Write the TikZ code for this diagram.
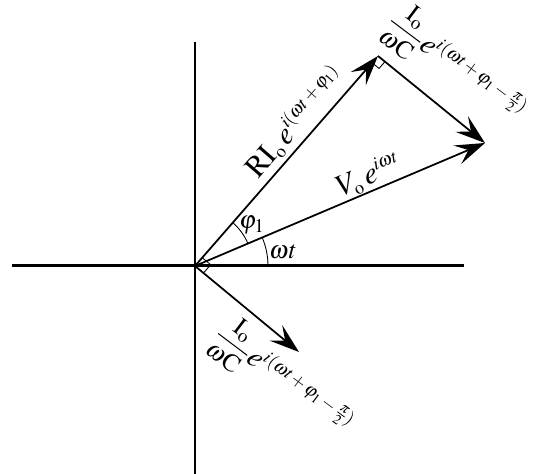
\documentclass[tikz,border=0pt]{standalone}
\usepackage{amsmath}
\usepackage{mathptmx}
\DeclareMathSizes{17.28}{17.28}{10.5}{8}
\usepackage{tikz}
\usetikzlibrary{positioning,arrows.meta,angles}

\begin{document}
\begin{tikzpicture}[
    axis/.style={line width=1.7pt},
    vec/.style={line width=1pt,-{Stealth[length=6mm,width=4mm,inset=2.4mm]}},
    lbl/.style={font=\LARGE,inner sep=1pt,anchor=base west},
    anglearc/.style={draw,line width=0.5pt}
]
    \useasboundingbox (-3.9,-4.16) rectangle (6.9,5.32);

    % Points of the diagram
    \coordinate (O) at (0,0);
    \coordinate (xl) at (-3.66,0);
    \coordinate (xr) at (5.38,0);
    \coordinate (yt) at (0,4.48);
    \coordinate (yb) at (0,-4.16);
    \coordinate (pR) at (3.66,4.2);
    \coordinate (pV) at (5.8,2.46);
    \coordinate (pC) at (2.08,-1.72);

    % Axes
    \draw[axis] (xl) -- (xr);
    \draw[axis] (yt) -- (yb);

    % Phasors
    \draw[vec] (O) -- (pR);
    \draw[vec] (O) -- (pV);
    \draw[vec] (pR) -- (pV);
    \draw[vec] (O) -- (pC);

    % Angles and right angles
    \pic[anglearc,angle radius=1.46cm] {angle=xr--O--pV};
    \pic[anglearc,angle radius=1.15cm] {angle=pV--O--pR};
    \pic[anglearc,angle radius=0.22cm] {right angle=pC--O--pR};
    \pic[anglearc,angle radius=0.18cm] {right angle=O--pR--pV};

    % Labels
    \node[lbl,rotate=49] (lR) at (1.24,1.70) {$\mathrm{RI_o}\,e^{i(\omega t\,+\,\varphi_1)}$};
    \node[lbl,rotate=23] (lV) at (2.88,1.36) {$V_{\mathrm{o}}\,e^{i\omega t}$};
    \node[lbl,rotate=-37] (lC1) at (3.78,4.86) {{\Large$\dfrac{\mathrm{I_o}}{\omega\mathrm{C}}$}$e^{i(\omega t\,+\,\varphi_1\,-\,\frac{\pi}{2})}$};
    \node[lbl,rotate=-37] (lC2) at (0.32,-1.40) {{\Large$\dfrac{\mathrm{I_o}}{\omega\mathrm{C}}$}$e^{i(\omega t\,+\,\varphi_1\,-\,\frac{\pi}{2})}$};
    \node[font=\Large] (lphi) at (1.14,0.82) {$\varphi_1$};
    \node[font=\Large] (lwt) at (1.76,0.28) {$\omega t$};
\end{tikzpicture}
\end{document}
